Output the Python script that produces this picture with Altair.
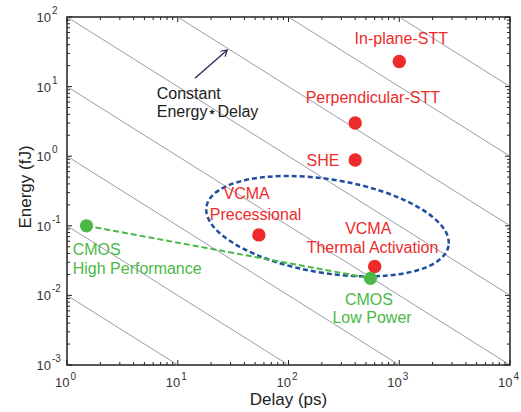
import altair as alt
import pandas as pd

# ---------------- data ----------------
dev_names = ["In-plane-STT", "Perpendicular-STT", "SHE", "VCMA Precessional", "VCMA Thermal Activation"]
dev_delay = [1000, 400, 400, 54, 600]
dev_energy = [23, 3.0, 0.88, 0.074, 0.026]

cmos_names = ["CMOS High Performance", "CMOS Low Power"]
cmos_delay = [1.5, 550]
cmos_energy = [0.1, 0.0176]

ed_constants = [0.01, 0.1, 1, 10, 100, 1000, 10000, 100000]

label_text = ["In-plane-STT", "Perpendicular-STT", "SHE", "VCMA", "Precessional",
              "VCMA", "Thermal Activation", "CMOS", "High Performance",
              "CMOS", "Low Power", "Constant", "Energy\u22c6Delay"]
label_delay = [1043, 577, 205, 41.9, 50.4, 525, 573, 1.126, 1.126, 533, 568, 6.46, 6.46]
label_energy = [40.5, 5.81, 0.730, 0.240, 0.1212, 0.0755, 0.0413, 0.0381, 0.0203,
                0.00728, 0.00401, 6.63, 3.62]
label_color = ["#ec2b2b"] * 7 + ["#4cb848"] * 4 + ["#222222"] * 2
label_align = ["center"] * 7 + ["left", "left", "center", "center", "left", "left"]

arrow_delay = [14.3, 28.0]
arrow_energy = [13.2, 33.6]

ellipse_delay = [225]
ellipse_energy = [0.0987]

x_ticks = [1, 10, 100, 1000, 10000]
x_exps = ["0", "1", "2", "3", "4"]
y_ticks = [0.001, 0.01, 0.1, 1, 10, 100]
y_exps = ["-3", "-2", "-1", "0", "1", "2"]
x_minor = [m * 10 ** k for k in range(0, 4) for m in range(2, 10)]
y_minor = [m * 10.0 ** k for k in range(-3, 2) for m in range(2, 10)]

# ---------------- frames ----------------
dev_df = pd.DataFrame({"name": dev_names, "delay": dev_delay, "energy": dev_energy})
cmos_df = pd.DataFrame({"name": cmos_names, "delay": cmos_delay, "energy": cmos_energy})
ed_df = pd.DataFrame({"c": ed_constants})
lab_df = pd.DataFrame({"text": label_text, "delay": label_delay, "energy": label_energy,
                       "color": label_color, "align": label_align})
arrow_df = pd.DataFrame({"d1": [arrow_delay[0]], "e1": [arrow_energy[0]],
                         "d2": [arrow_delay[1]], "e2": [arrow_energy[1]]})
ell_df = pd.DataFrame({"delay": ellipse_delay, "energy": ellipse_energy})
xt_df = pd.DataFrame({"v": x_ticks, "e": x_exps})
yt_df = pd.DataFrame({"v": y_ticks, "e": y_exps})
xm_df = pd.DataFrame({"v": x_minor})
ym_df = pd.DataFrame({"v": y_minor})

W, H = 443, 348
FONT = "Liberation Sans"
XS = alt.Scale(type="log", domain=[1, 10000], nice=False)
YS = alt.Scale(type="log", domain=[0.001, 100], nice=False)


def X(f):
    return alt.X(f, type="quantitative", scale=XS, axis=None)


def Y(f):
    return alt.Y(f, type="quantitative", scale=YS, axis=None)


layers = []

# constant energy*delay lines
layers.append(
    alt.Chart(ed_df).transform_calculate(
        x1="1", x2="10000", y1="datum.c", y2="datum.c / 10000"
    ).mark_rule(color="#9c9caa", strokeWidth=1, clip=True).encode(
        x=X("x1:Q"), y=Y("y1:Q"), x2="x2:Q", y2="y2:Q"
    )
)

# ticks (inward, all four sides)
def tick_layers(df, axis, length):
    out = []
    base = alt.Chart(df).mark_rule(color="#222222", strokeWidth=1)
    if axis == "x":
        out.append(base.encode(x=X("v:Q"), y=alt.value(H), y2=alt.value(H - length)))
        out.append(base.encode(x=X("v:Q"), y=alt.value(0), y2=alt.value(length)))
    else:
        out.append(base.encode(y=Y("v:Q"), x=alt.value(0), x2=alt.value(length)))
        out.append(base.encode(y=Y("v:Q"), x=alt.value(W), x2=alt.value(W - length)))
    return out

layers += tick_layers(xt_df, "x", 5)
layers += tick_layers(xm_df, "x", 3)
layers += tick_layers(yt_df, "y", 5)
layers += tick_layers(ym_df, "y", 3)

# tick labels
layers.append(alt.Chart(xt_df).mark_text(
    align="right", baseline="alphabetic", dx=2.5, fontSize=13, font=FONT, color="#333333"
).encode(x=X("v:Q"), y=alt.value(H + 21.5), text=alt.value("10")))
layers.append(alt.Chart(xt_df).mark_text(
    align="left", baseline="alphabetic", dx=3.5, fontSize=10, font=FONT, color="#333333"
).encode(x=X("v:Q"), y=alt.value(H + 15), text="e:N"))
layers.append(alt.Chart(yt_df).mark_text(
    align="right", baseline="alphabetic", dy=5, fontSize=13, font=FONT, color="#333333"
).encode(y=Y("v:Q"), x=alt.value(-16), text=alt.value("10")))
layers.append(alt.Chart(yt_df).mark_text(
    align="left", baseline="alphabetic", dy=-3, fontSize=10, font=FONT, color="#333333"
).encode(y=Y("v:Q"), x=alt.value(-15), text="e:N"))

# axis titles
layers.append(alt.Chart(pd.DataFrame({"t": ["Delay (ps)"]})).mark_text(
    align="center", baseline="alphabetic", fontSize=17, font=FONT, color="#222222"
).encode(x=alt.value(W / 2), y=alt.value(H + 40), text="t:N"))
layers.append(alt.Chart(pd.DataFrame({"t": ["Energy (fJ)"]})).mark_text(
    align="center", baseline="alphabetic", fontSize=17, font=FONT, color="#222222", angle=270
).encode(x=alt.value(-36), y=alt.value(170), text="t:N"))

# dashed ellipse
ELLIPSE = ("M 1 0 C 1 0.211 0.5523 0.3821 0 0.3821 C -0.5523 0.3821 -1 0.211 -1 0 "
           "C -1 -0.211 -0.5523 -0.3821 0 -0.3821 C 0.5523 -0.3821 1 -0.211 1 0 Z")
layers.append(alt.Chart(ell_df).mark_point(
    shape=ELLIPSE, size=60123, angle=9.15, filled=False, color="#1f4f9f",
    strokeWidth=2.5, strokeDash=[5, 3], opacity=1
).encode(x=X("delay:Q"), y=Y("energy:Q")))

# green dashed line
layers.append(alt.Chart(cmos_df).mark_line(
    color="#4cb848", strokeWidth=2, strokeDash=[6, 3]
).encode(x=X("delay:Q"), y=Y("energy:Q")))

# points
layers.append(alt.Chart(dev_df).mark_circle(size=180, color="#ec2b2b", opacity=1).encode(
    x=X("delay:Q"), y=Y("energy:Q")))
layers.append(alt.Chart(cmos_df).mark_circle(size=175, color="#4cb848", opacity=1).encode(
    x=X("delay:Q"), y=Y("energy:Q")))

# arrow
layers.append(alt.Chart(arrow_df).mark_rule(color="#232358", strokeWidth=1.2).encode(
    x=X("d1:Q"), y=Y("e1:Q"), x2="d2:Q", y2="e2:Q"))
layers.append(alt.Chart(arrow_df).mark_point(
    shape="M -0.5 0.85 L 0 0 L 0.5 0.85", size=200, angle=48.8, filled=False,
    color="#232358", strokeWidth=1.2, opacity=1
).encode(x=X("d2:Q"), y=Y("e2:Q")))

# annotations
for al in ["center", "left"]:
    layers.append(alt.Chart(lab_df).transform_filter(
        alt.datum.align == al
    ).mark_text(align=al, baseline="alphabetic", fontSize=16, font=FONT).encode(
        x=X("delay:Q"), y=Y("energy:Q"), text="text:N",
        color=alt.Color("color:N", scale=None)))

chart = alt.layer(*layers).properties(
    width=W, height=H,
    padding={"left": 67, "top": 17, "right": 11, "bottom": 47},
    autosize=alt.AutoSizeParams(type="none"),
    background="white",
).configure_view(stroke="#222222", strokeWidth=1.5)

chart.save("out.html", embed_options={"renderer": "svg", "actions": False})
